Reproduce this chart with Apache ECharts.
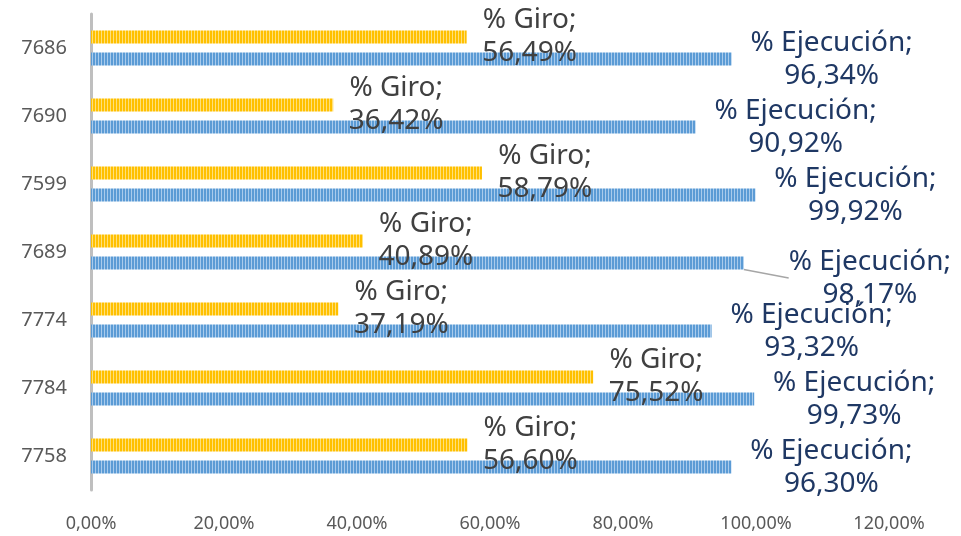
<!DOCTYPE html>
<html>
<head>
<meta charset="utf-8">
<script src="https://cdn.jsdelivr.net/npm/echarts@6/dist/echarts.min.js"></script>
<style>
  html, body { margin: 0; padding: 0; background: #fff; }
  #chart { width: 961px; height: 536px; }
</style>
</head>
<body>
<div id="chart"></div>
<script>
  var categories = ['7686', '7690', '7599', '7689', '7774', '7784', '7758']
  var giro = [56.49, 36.42, 58.79, 40.89, 37.19, 75.52, 56.60]
  var ejecucion = [96.34, 90.92, 99.92, 98.17, 93.32, 99.73, 96.30]
  var xTicks = [0, 20, 40, 60, 80, 100, 120]

  function fmt (v) {
    return v.toFixed(2).replace('.', ',') + '%'
  }

  // striped fill, like the original bars
  function stripes (base, light) {
    var c = document.createElement('canvas')
    c.width = 3
    c.height = 4
    var ctx = c.getContext('2d')
    ctx.fillStyle = base
    ctx.fillRect(0, 0, 3, 4)
    ctx.fillStyle = light
    ctx.fillRect(2, 0, 1, 4)
    return { image: c, repeat: 'repeat' }
  }

  var font = '"Noto Sans", sans-serif'

  // only the 7689 label is pulled away with a leader line
  var ejecucionData = ejecucion.map(function (v, i) {
    return i === 3 ? { value: v, labelLine: { show: true } } : v
  })

  var chart = echarts.init(document.getElementById('chart'))
  var option = {
    animation: false,
    grid: { left: 91, top: 14, width: 798, height: 476, containLabel: false },
    xAxis: {
      type: 'value',
      min: 0,
      max: 120,
      interval: 20,
      splitLine: { show: false },
      axisLine: { show: false },
      axisTick: { show: false },
      axisLabel: {
        margin: 25,
        fontSize: 18,
        color: '#595959',
        fontFamily: font,
        formatter: function (v) { return xTicks.indexOf(v) >= 0 ? fmt(v) : '' }
      }
    },
    yAxis: {
      type: 'category',
      inverse: true,
      data: categories,
      axisLine: { show: true, lineStyle: { color: '#bfbfbf', width: 3 } },
      axisTick: { show: false },
      axisLabel: { margin: 24, fontSize: 20, color: '#595959', fontFamily: font }
    },
    series: [
      {
        name: '% Giro',
        type: 'bar',
        data: giro,
        barWidth: 13,
        barGap: '70%',
        itemStyle: { color: stripes('#ffc000', '#ffe07a') },
        label: {
          show: true,
          position: 'right',
          distance: 0,
          align: 'center',
          offset: [63, 0],
          fontSize: 28,
          lineHeight: 33,
          color: '#404040',
          fontFamily: font,
          formatter: function (p) { return '% Giro;\n' + fmt(p.value) }
        }
      },
      {
        name: '% Ejecución',
        type: 'bar',
        data: ejecucionData,
        barWidth: 13,
        barGap: '70%',
        itemStyle: { color: stripes('#5b9bd5', '#a9cbec') },
        label: {
          show: true,
          position: 'right',
          distance: 0,
          align: 'center',
          fontSize: 28,
          lineHeight: 33,
          color: '#1f3864',
          fontFamily: font,
          formatter: function (p) { return '% Ejecución;\n' + fmt(p.value) }
        },
        labelLine: { show: false, lineStyle: { color: '#a6a6a6', width: 1.5 } },
        labelLayout: function (p) {
          if (p.dataIndex === 3) return { dx: 126, dy: 15 }
          return { dx: 100 }
        }
      }
    ]
  }
  chart.setOption(option)
</script>
</body>
</html>
